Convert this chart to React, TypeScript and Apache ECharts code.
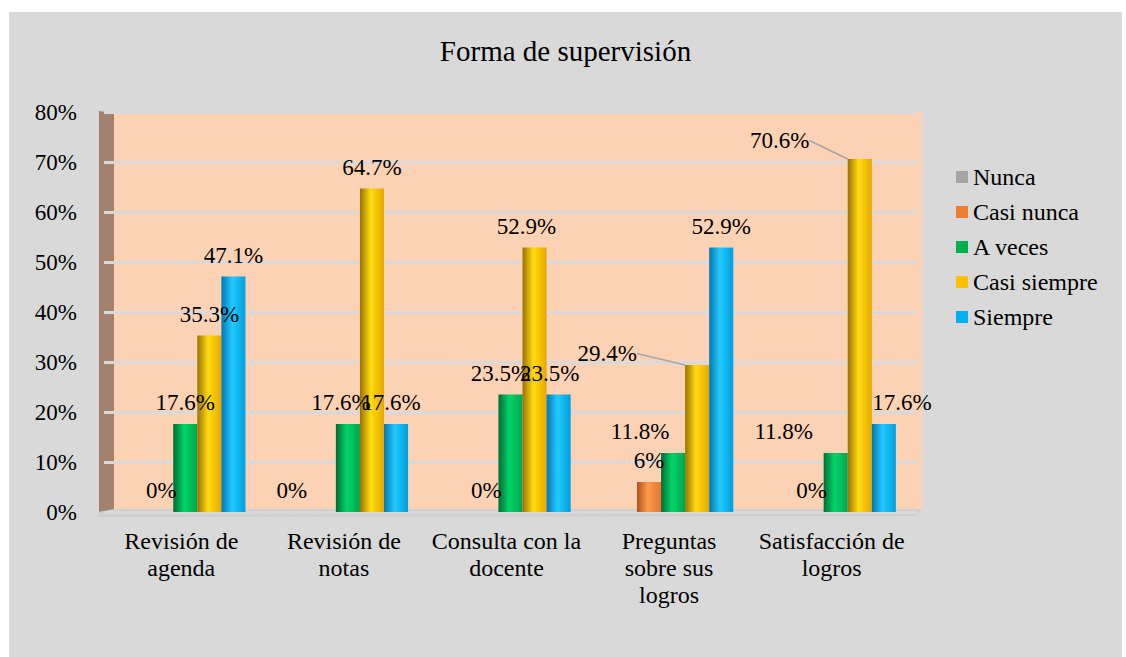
import React, { useEffect, useRef } from "react";
import * as echarts from "echarts";

const categories = [
  "Revisión de\nagenda",
  "Revisión de\nnotas",
  "Consulta con la\ndocente",
  "Preguntas\nsobre sus\nlogros",
  "Satisfacción de\nlogros",
];
const seriesNames = ["Nunca", "Casi nunca", "A veces", "Casi siempre", "Siempre"];
const nunca = [0, 0, 0, 0, 0];
const casiNunca = [0, 0, 0, 6, 0];
const aVeces = [17.6, 17.6, 23.5, 11.8, 11.8];
const casiSiempre = [35.3, 64.7, 52.9, 29.4, 70.6];
const siempre = [47.1, 17.6, 23.5, 52.9, 17.6];
const yMin = 0;
const yMax = 80;
const yStep = 10;

const seriesValues = [nunca, casiNunca, aVeces, casiSiempre, siempre];
const legendColors = ["#a5a5a5", "#ed7d31", "#00b050", "#ffc000", "#00b0f0"];
const barShades: [string, string, string][] = [
  ["#7f7f7f", "#c8c8c8", "#a5a5a5"],
  ["#b0521a", "#ff9a4c", "#e57432"],
  ["#006b34", "#00d468", "#00a650"],
  ["#9a7200", "#ffdc10", "#e6a800"],
  ["#0078b0", "#22c9ff", "#009fdc"],
];
const showLabels = [false, true, true, true, true];
const labelShift: Record<number, Record<number, [number, number]>> = {
  1: { 1: [-32, 0] },
  2: { 1: [-7, 0], 2: [-10, 0], 3: [-33, 0], 4: [-52, 0] },
  3: { 2: [-8, 0], 3: [-90, 10], 4: [-80, 3] },
  4: { 1: [-5, 0], 2: [-9, 0], 4: [18, 0] },
};
const leaderLines: Record<number, number[]> = { 3: [3, 4] };

const FONT = "Liberation Serif";

function fmt(v: number) {
  return Number.isInteger(v) ? `${v}%` : `${v.toFixed(1)}%`;
}

export default function App() {
  const ref = useRef<HTMLDivElement>(null);
  useEffect(() => {
    if (!ref.current) return;
    const chart = echarts.init(ref.current, undefined, { renderer: "svg" });
    const series = seriesNames.map((name, si) => {
      const [dark, bright, mid] = barShades[si];
      const lines = leaderLines[si] || [];
      return {
        type: "bar",
        name,
        data: seriesValues[si].map((v, i) =>
          lines.includes(i)
            ? { value: v, labelLine: { show: true, lineStyle: { color: "#a6a6a6", width: 1.5 } } }
            : v
        ),
        itemStyle: {
          color: new echarts.graphic.LinearGradient(0, 0, 1, 0, [
            { offset: 0, color: dark },
            { offset: 0.45, color: bright },
            { offset: 1, color: mid },
          ]),
        },
        label: {
          show: showLabels[si],
          position: "top",
          distance: 10,
          color: "#000",
          fontFamily: FONT,
          fontSize: 23,
          lineHeight: 23,
          formatter: (p: any) => fmt(p.value),
        },
        labelLayout: (p: any) => {
          const s = (labelShift[si] || {})[p.dataIndex];
          return s ? { dx: s[0], dy: s[1] } : {};
        },
        barCategoryGap: "26%",
        barGap: "0%",
      };
    });
    chart.setOption({
      animation: false,
      textStyle: { fontFamily: FONT },
      title: {
        text: "Forma de supervisión",
        left: "center",
        top: 24,
        padding: 0,
        textStyle: { fontFamily: FONT, fontSize: 29, fontWeight: "normal", color: "#000", lineHeight: 29 },
      },
      legend: {
        orient: "vertical",
        left: 947,
        top: 153,
        itemWidth: 12,
        itemHeight: 12,
        itemGap: 11,
        padding: 0,
        icon: "rect",
        textStyle: { fontFamily: FONT, fontSize: 24, color: "#000", lineHeight: 24 },
        data: seriesNames.map((n, i) => ({ name: n, itemStyle: { color: legendColors[i] } })),
      },
      grid: { left: 95, right: 205, top: 100, bottom: 145 },
      xAxis: {
        type: "category",
        data: categories,
        axisLine: { show: false },
        axisTick: { show: false },
        axisLabel: {
          fontFamily: FONT,
          fontSize: 24,
          lineHeight: 27,
          color: "#000",
          margin: 15,
          padding: [0, 8, 0, 0],
          interval: 0,
        },
      },
      yAxis: {
        type: "value",
        min: yMin,
        max: yMax,
        interval: yStep,
        axisLine: { show: false },
        axisTick: { show: false },
        splitLine: { lineStyle: { color: "#d9d9d9", width: 3 } },
        axisLabel: {
          formatter: "{value}%",
          fontFamily: FONT,
          fontSize: 23,
          color: "#000",
          margin: 27,
        },
      },
      graphic: [
        {
          type: "rect",
          z: -10,
          silent: true,
          shape: { x: 105, y: 100, width: 808, height: 400 },
          style: { fill: "#fcd2b4" },
        },
        {
          type: "polygon",
          z: -9,
          silent: true,
          shape: { points: [[90, 99], [105, 101], [105, 498], [90, 500]] },
          style: { fill: "#a2826e" },
        },
        {
          type: "polygon",
          z: -9,
          silent: true,
          shape: { points: [[90, 500], [105, 497], [913, 497], [908, 504], [88, 505]] },
          style: { fill: "#cfcfcf" },
        },
      ],
      series,
    });
    return () => chart.dispose();
  }, []);
  return (
    <div style={{ position: "fixed", left: 0, top: 0, width: 1126, height: 657, background: "#fff" }}>
      <div
        ref={ref}
        style={{ position: "absolute", left: 9, top: 12, width: 1113, height: 645, background: "#d9d9d9" }}
      />
    </div>
  );
}
